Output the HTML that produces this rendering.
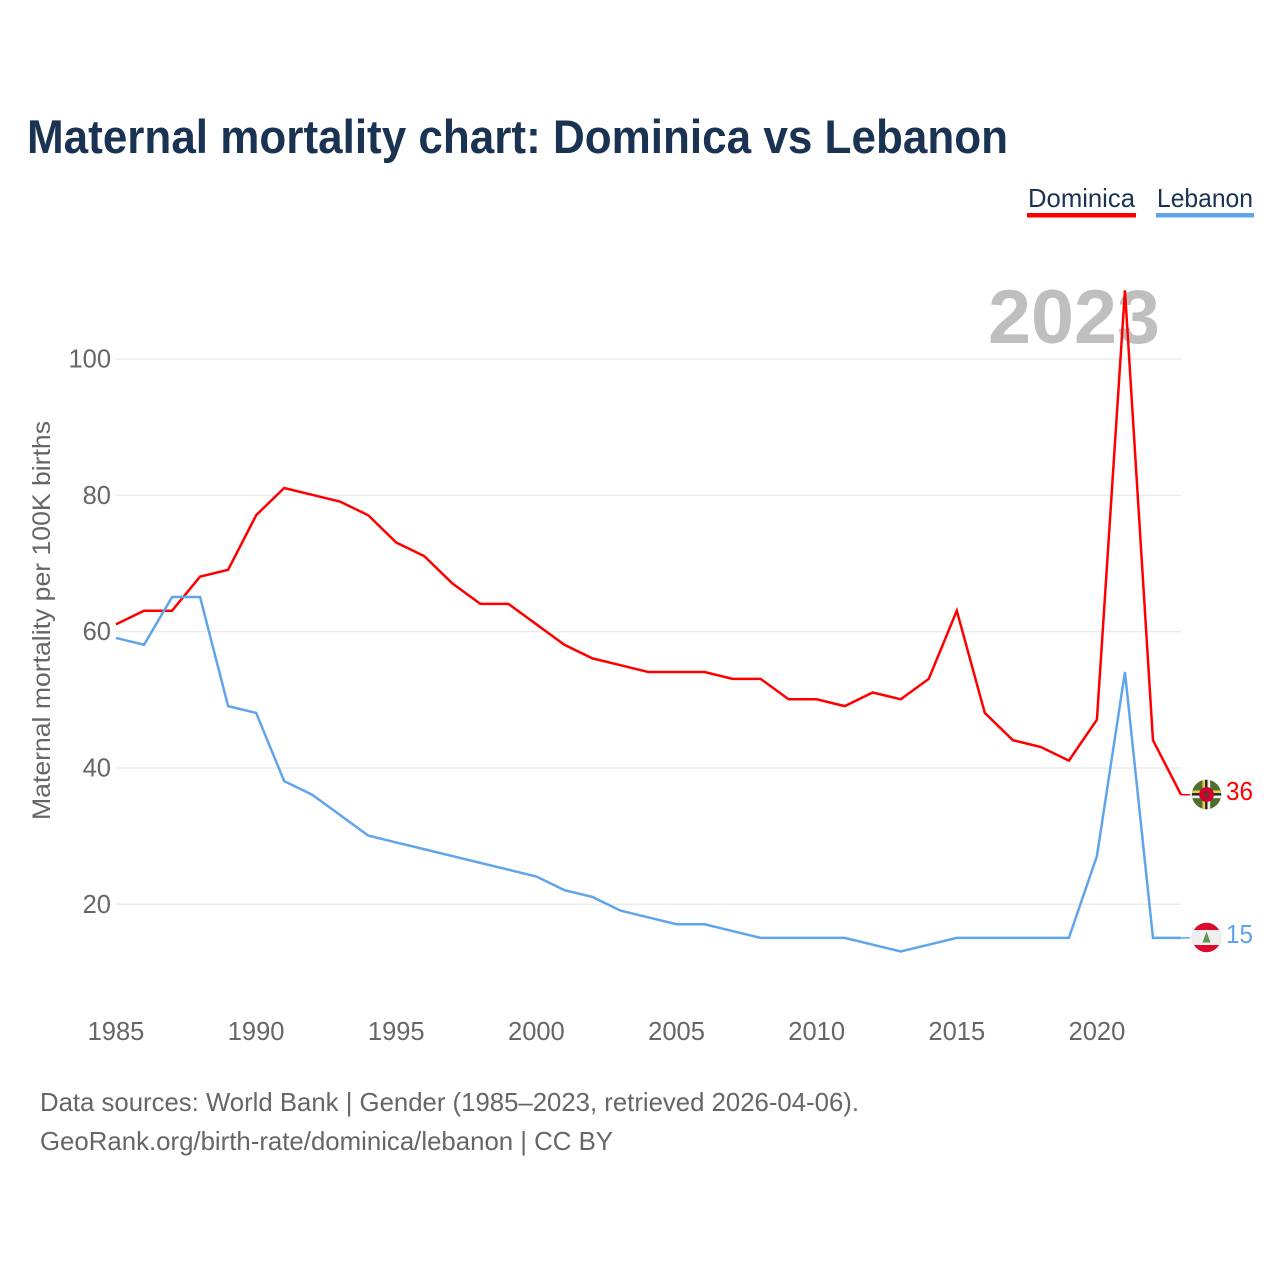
<!DOCTYPE html>
<html>
<head>
<meta charset="utf-8">
<title>Maternal mortality chart: Dominica vs Lebanon</title>
<style>
html,body{margin:0;padding:0;background:#fff;width:1280px;height:1280px;overflow:hidden}
svg{display:block}
text{font-family:"Liberation Sans",sans-serif}
</style>
</head>
<body>
<svg id="chart" xmlns="http://www.w3.org/2000/svg" width="1280" height="1280" viewBox="0 0 1280 1280">
  <rect width="1280" height="1280" fill="#fff"/>
  <text x="27" y="153" font-size="47" font-weight="700" fill="#1a3353" textLength="981" lengthAdjust="spacingAndGlyphs">Maternal mortality chart: Dominica vs Lebanon</text>

  <g>
    <text x="1028" y="207" font-size="26" fill="#1a3353" textLength="107" lengthAdjust="spacingAndGlyphs">Dominica</text>
    <rect x="1027" y="213" width="109" height="4.5" fill="#ff0000"/>
  </g>
  <g>
    <text x="1157" y="207" font-size="26" fill="#1a3353" textLength="96" lengthAdjust="spacingAndGlyphs">Lebanon</text>
    <rect x="1156" y="213" width="98" height="4.5" fill="#60a5ec"/>
  </g>

  <g id="grid"></g>
  <text x="1160" y="343" text-anchor="end" font-size="76" font-weight="700" fill="#bfbfbf" textLength="172" lengthAdjust="spacingAndGlyphs">2023</text>
  <g id="yticks"></g>
  <g id="xticks"></g>
  <text transform="translate(50,820) rotate(-90)" x="0" y="0" font-size="25" fill="#666666" textLength="399" lengthAdjust="spacingAndGlyphs">Maternal mortality per 100K births</text>
  <g id="series"></g>

  <defs>
    <clipPath id="clip-dm"><circle cx="1206.5" cy="794.5" r="14.7"/></clipPath>
    <clipPath id="clip-lb"><circle cx="1206.5" cy="937.5" r="14.7"/></clipPath>
  </defs>

  <g clip-path="url(#clip-dm)">
    <rect x="1190" y="778" width="33" height="33" fill="#4f6f2c"/>
    <rect x="1190" y="790.5" width="33" height="2.7" fill="#e8cf50"/>
    <rect x="1190" y="793.2" width="33" height="2.3" fill="#222"/>
    <rect x="1190" y="795.5" width="33" height="2.7" fill="#eeeeee"/>
    <rect x="1202.5" y="778" width="2.7" height="33" fill="#e8cf50"/>
    <rect x="1205.2" y="778" width="2.3" height="33" fill="#222"/>
    <rect x="1207.5" y="778" width="2.7" height="33" fill="#eeeeee"/>
    <circle cx="1206.5" cy="794.5" r="7.4" fill="#d5002b"/>
    <ellipse cx="1206.5" cy="794.5" rx="2" ry="3.6" fill="#5a3a2a"/>
  </g>
  <g clip-path="url(#clip-lb)">
    <rect x="1190" y="921" width="33" height="33" fill="#dc0a2d"/>
    <rect x="1190" y="930" width="33" height="15" fill="#f0f0f0"/>
    <path d="M1206.5 931.5 L1210.5 942.5 L1202.5 942.5 Z" fill="#5f9a55"/>
  </g>

  <text x="1226" y="800" font-size="26" fill="#ff0000" textLength="27" lengthAdjust="spacingAndGlyphs">36</text>
  <text x="1226" y="943" font-size="26" fill="#60a5ec" textLength="27" lengthAdjust="spacingAndGlyphs">15</text>

  <text x="40" y="1111" font-size="26" fill="#666666" textLength="819" lengthAdjust="spacingAndGlyphs">Data sources: World Bank | Gender (1985–2023, retrieved 2026-04-06).</text>
  <text x="40" y="1150" font-size="26" fill="#666666" textLength="573" lengthAdjust="spacingAndGlyphs">GeoRank.org/birth-rate/dominica/lebanon | CC BY</text>
</svg>
<script>
const years = [1985,1986,1987,1988,1989,1990,1991,1992,1993,1994,1995,1996,1997,1998,1999,2000,2001,2002,2003,2004,2005,2006,2007,2008,2009,2010,2011,2012,2013,2014,2015,2016,2017,2018,2019,2020,2021,2022,2023];
const dominicaValues = [61,63,63,68,69,77,81,80,79,77,73,71,67,64,64,61,58,56,55,54,54,54,53,53,50,50,49,51,50,53,63,48,44,43,41,47,110,44,36];
const lebanonValues = [59,58,65,65,49,48,38,36,33,30,29,28,27,26,25,24,22,21,19,18,17,17,16,15,15,15,15,14,13,14,15,15,15,15,15,27,54,15,15];
const yTickValues = [20,40,60,80,100];
const xTickValues = [1985,1990,1995,2000,2005,2010,2015,2020];

const NS = 'http://www.w3.org/2000/svg';
function xScale(year){ return 116 + (year - 1985) * (1181 - 116) / (2023 - 1985); }
function yScale(v){ return 359 + (100 - v) * 6.816; }
function make(tag, attrs){
  const el = document.createElementNS(NS, tag);
  for (const k in attrs) el.setAttribute(k, attrs[k]);
  return el;
}
const grid = document.getElementById('grid');
const yticks = document.getElementById('yticks');
const xticks = document.getElementById('xticks');
const series = document.getElementById('series');

yTickValues.forEach(function(v){
  const line = make('line', {x1:116, x2:1181, y1:yScale(v), y2:yScale(v), stroke:'#ebebeb', 'stroke-width':1.5});
  
  
  grid.appendChild(line);
  const t = make('text', {x:111, y:yScale(v) + 8.5, 'text-anchor':'end', 'font-size':25.5, fill:'#666666'});
  
  
  t.textContent = v;
  yticks.appendChild(t);
});

xTickValues.forEach(function(y){
  const t = make('text', {x:xScale(y), y:1040, 'text-anchor':'middle', 'font-size':25.5, fill:'#666666'});
  
  
  t.textContent = y;
  xticks.appendChild(t);
});

function drawSeries(values, color, name){
  const pts = values.map(function(v, i){ return xScale(years[i]).toFixed(2) + ',' + (yScale(v) - 0.5).toFixed(2); }).join(' ');
  const line = make('polyline', {points:pts, fill:'none', stroke:color, 'stroke-width':2.5, 'stroke-linejoin':'miter'});
  
  
  series.appendChild(line);
  const last = values[values.length - 1];
  const leader = make('line', {x1:xScale(years[years.length - 1]), x2:1190, y1:yScale(last) - 0.5, y2:yScale(last) - 0.5, stroke:color, 'stroke-width':1.5});
  
  
  series.appendChild(leader);
}
drawSeries(dominicaValues, '#ff0000', 'dominica');
drawSeries(lebanonValues, '#60a5ec', 'lebanon');
</script>
</body>
</html>
